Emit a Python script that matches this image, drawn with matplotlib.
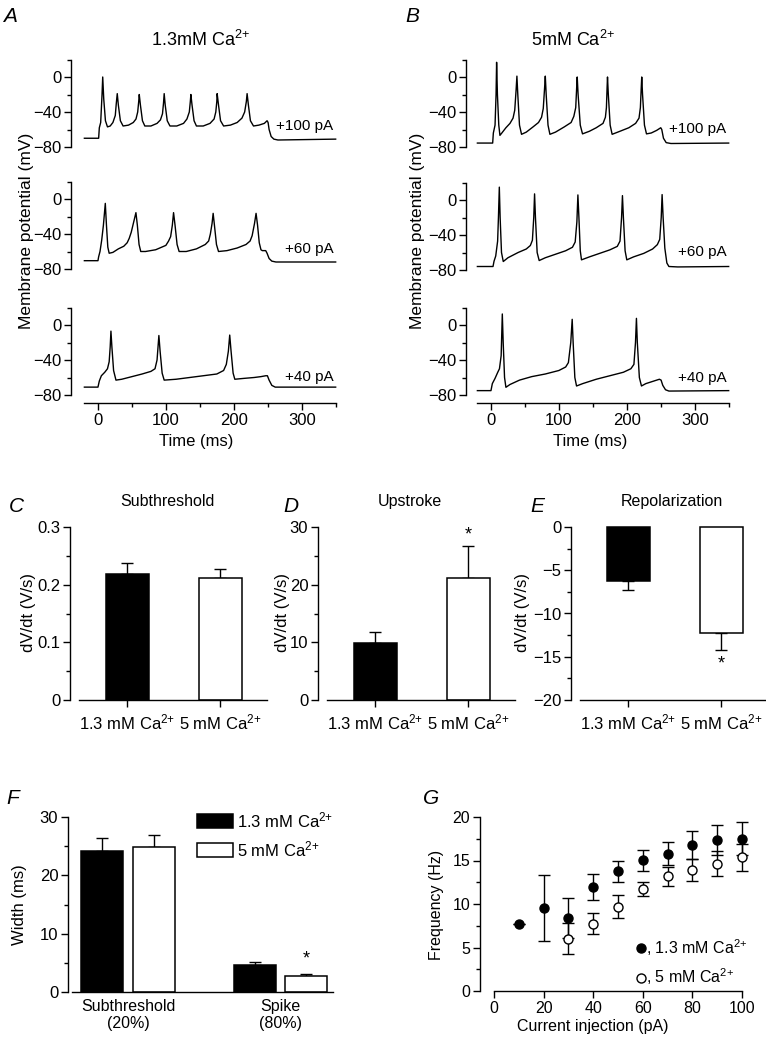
import numpy as np
import matplotlib
matplotlib.use('Agg')
import matplotlib.pyplot as plt
from matplotlib.ticker import FixedLocator
from matplotlib.patches import Patch
from matplotlib.lines import Line2D

plt.rcParams['font.family'] = ['Liberation Sans', 'DejaVu Sans']
plt.rcParams['mathtext.fontset'] = 'custom'
plt.rcParams['mathtext.rm'] = 'Liberation Sans'
plt.rcParams['mathtext.it'] = 'Liberation Sans:italic'
plt.rcParams['mathtext.bf'] = 'Liberation Sans:bold'
plt.rcParams['axes.linewidth'] = 1.0

CA = 'Ca$^{2{+}}$'

# ---------------- data ----------------
# membrane potential traces (time ms, potential mV)
A100 = [(-20,-70),(1,-70),(2,-58),(4,-52),(6,-20),(7,0),(8.5,-25),(11,-50),(14,-57),(18,-56),
        (22,-52),(25.5,-44),(27,-30),(28.4,-19),(30,-32),(33,-50),(37,-56),(45,-55),(52,-52),
        (56,-48),(58.5,-40),(60,-28),(60.8,-20),(62.5,-32),(65.5,-50),(69,-56),(78,-56),(87,-53),
        (92,-49),(95,-42),(96.5,-30),(97.5,-19),(99,-32),(102,-50),(106,-56),(116,-56),(126,-53),
        (131,-48),(134.5,-40),(136,-28),(136.8,-20),(138.5,-32),(141.5,-50),(145,-56),(155,-56),
        (165,-53),(171,-48),(173.5,-40),(175,-28),(175.5,-19),(177.5,-32),(180.5,-50),(185,-56),
        (195,-55),(205,-52),(212,-47),(216,-40),(218.5,-28),(219.6,-19),(221.5,-32),(224.5,-50),
        (229,-56),(237,-55),(245,-53),(249,-50),(250.5,-52),(252,-60),(255,-68),(259,-71),
        (265,-72),(350,-71)]
A60 = [(-20,-70.5),(0,-70.5),(1,-66),(3,-60),(5.5,-47),(8,-30),(10.8,-5),(12.5,-30),(14.5,-55),
       (16.5,-62),(22,-61),(30,-57),(38,-54),(43,-50),(46,-45),(49,-38),(53,-25),(55.9,-15.6),
       (58,-30),(60.5,-52),(63,-60),(70,-60),(85,-58),(100,-53),(104,-48),(107,-43),(109.5,-30),
       (111.3,-15.6),(113.5,-30),(116.5,-52),(119.5,-60),(130,-60),(145,-57),(158,-52),(163,-48),
       (165.5,-40),(168,-28),(169.6,-16.4),(171.5,-30),(174.5,-52),(177.5,-60),(190,-59),
       (205,-56),(218,-52),(224,-48),(227,-42),(230.5,-28),(232.8,-16.4),(235,-30),(237.5,-50),
       (240,-58),(242,-59),(247,-59),(249,-62),(252,-68),(256,-71),(262,-72),(350,-72)]
A40 = [(-20,-71),(0,-71),(2,-64),(5,-58),(10,-54),(14,-50),(16.5,-42),(18,-25),(19.1,-7),
       (20.5,-25),(23,-52),(26.5,-63),(35,-62),(50,-59),(65,-56),(78,-53),(84,-50),(87,-40),
       (89.7,-12),(91.5,-30),(94.5,-55),(97.5,-63),(115,-62),(135,-60),(155,-58),(175,-56),
       (185,-52),(189,-45),(192,-30),(194,-11.5),(196,-30),(199,-55),(201.5,-62),(215,-61),
       (230,-60),(240,-59),(247,-58),(249.5,-58),(252,-63),(256,-69),(261,-71),(350,-71)]
B100 = [(-20,-75.5),(2.5,-75.5),(3.5,-64),(6,-55),(7.5,-20),(8.3,16.8),(9.5,-20),(11.5,-55),
        (13.2,-66.7),(16,-64),(22,-58),(28,-53),(32.5,-47),(35,-38),(37,-15),(38.2,1),(39.5,-20),
        (42,-55),(45,-65.5),(52,-63),(62,-57),(70,-52),(74.5,-46),(77,-36),(79,-12),(80,1),
        (81.3,-20),(84,-55),(86.8,-65.5),(95,-63),(108,-57),(118,-52),(122,-45),(124.8,-35),
        (126.2,-12),(127,0),(128.3,-20),(131.5,-55),(134.8,-65),(145,-62),(155,-58),(165,-53),
        (168.5,-46),(170,-35),(171,-12),(171.6,0),(172.8,-20),(175.5,-55),(178.4,-65.5),
        (190,-62),(203,-58),(213,-53),(218,-47),(220,-35),(221.3,-12),(222,0),(223.2,-20),
        (226,-55),(229,-65),(236,-64),(244,-61),(250,-58),(251.5,-60),(254,-70),(258,-75),
        (265,-76),(350,-75.5)]
B60 = [(-20,-76),(3,-76),(4.5,-70),(7,-64),(9.8,-47),(11,-20),(12.3,14.7),(13.5,-20),(15.5,-60),
       (18.1,-70.3),(25,-66),(40,-60),(52,-56),(58,-52),(61,-46),(63,-20),(64.2,7),(65.5,-20),
       (68,-60),(71,-69.2),(80,-66),(95,-62),(110,-58),(120,-54),(124,-48),(126.5,-25),
       (128,5.8),(129.5,-20),(131.5,-58),(133.3,-68.4),(145,-65),(160,-61),(175,-57),(186,-53),
       (190,-47),(192.3,-20),(193.6,5),(195,-20),(197.5,-58),(200,-68.4),(210,-65),(225,-61),
       (238,-56),(245,-51),(248.5,-45),(250.7,-20),(252,6.2),(253.5,-20),(256,-55),(259,-72),
       (262,-76),(275,-76.5),(350,-76)]
B40 = [(-20,-75),(0,-75),(2,-67),(6,-61),(10,-54),(12.5,-50),(15,-35),(16.7,12.6),(18,-20),
       (20,-60),(22,-71.2),(28,-68),(42,-63),(60,-59),(80,-56),(100,-52),(110,-48),(114,-43),
       (117.5,-20),(119.6,6.5),(121,-20),(123.5,-60),(126,-69.7),(135,-67),(155,-62),(175,-58),
       (195,-54),(206,-50),(210.5,-45),(212.8,-20),(214.2,7.6),(215.5,-20),(218.5,-60),
       (221.6,-69.7),(228,-67),(240,-64),(248,-62),(250.5,-63),(253,-69),(257,-74),(262,-75.5),
       (350,-75)]
trace_labels = ['+100 pA', '+60 pA', '+40 pA']

# C, D, E: dV/dt bars
cde_groups = ['1.3 mM ' + CA, '5 mM ' + CA]
sub_mean = [0.218, 0.211]
sub_err = [0.019, 0.016]
up_mean = [9.8, 21.2]
up_err = [2.0, 5.5]
rep_mean = [-6.3, -12.2]
rep_err = [1.0, 2.0]

# F: widths
f_groups = ['Subthreshold\n(20%)', 'Spike\n(80%)']
width_low = [24.1, 4.6]
width_low_err = [2.3, 0.5]
width_high = [24.8, 2.8]
width_high_err = [2.1, 0.3]

# G: frequency vs current
cur_low = [10, 20, 30, 40, 50, 60, 70, 80, 90, 100]
freq_low = [7.75, 9.5, 8.4, 11.95, 13.75, 15.05, 15.8, 16.8, 17.35, 17.5]
freq_low_err = [0.0, 3.8, 2.3, 1.5, 1.2, 1.2, 1.3, 1.6, 1.7, 1.9]
cur_high = [30, 40, 50, 60, 70, 80, 90, 100]
freq_high = [6.0, 7.75, 9.7, 11.75, 13.2, 13.95, 14.65, 15.35]
freq_high_err = [1.8, 1.2, 1.3, 0.8, 1.1, 1.25, 1.4, 1.5]

# ---------------- figure ----------------
W, H = 766, 1048
fig = plt.figure(figsize=(W / 100, H / 100), dpi=100)


def px_axes(l, t, r, b):
    return fig.add_axes([l / W, 1 - b / H, (r - l) / W, (b - t) / H])


def ftext(x, y, s, **kw):
    kw.setdefault('ha', 'center')
    kw.setdefault('va', 'center')
    return fig.text(x / W, 1 - y / H, s, **kw)


TICK = dict(direction='out', length=5, width=1.0, labelsize=12, pad=2)
MINOR = dict(direction='out', length=3, width=1.0)


def trace_panel(traces, left, right, zero_t_px, neg80_ys, label_vs):
    ms_per_px = 1 / 0.68
    xl = (-(zero_t_px - left) * ms_per_px, 350.5)
    for i, (tr, y80) in enumerate(zip(traces, neg80_ys)):
        top = y80 - 87.5
        last = (i == len(traces) - 1)
        bottom = 403 if last else y80
        ax = px_axes(left, top, right, bottom)
        arr = np.array(tr)
        ax.plot(arr[:, 0], arr[:, 1], color='k', lw=1.0, clip_on=False)
        ax.set_xlim(*xl)
        ymin = -80 - (bottom - y80) / 0.875
        ax.set_ylim(ymin, 20)
        for s in ['top', 'right']:
            ax.spines[s].set_visible(False)
        ax.spines['left'].set_bounds(-80, 20)
        ax.yaxis.set_major_locator(FixedLocator([-80, -40, 0]))
        ax.yaxis.set_minor_locator(FixedLocator([-60, -20, 20]))
        ax.tick_params(axis='y', which='major', **TICK)
        ax.tick_params(axis='y', which='minor', **MINOR)
        if last:
            ax.spines['bottom'].set_bounds(-20, 350)
            ax.xaxis.set_major_locator(FixedLocator([0, 100, 200, 300]))
            ax.xaxis.set_minor_locator(FixedLocator([50, 150, 250, 350]))
            ax.tick_params(axis='x', which='major', **TICK)
            ax.tick_params(axis='x', which='minor', **MINOR)
        else:
            ax.spines['bottom'].set_visible(False)
            ax.set_xticks([])
        ax.text(347, label_vs[i], trace_labels[i], ha='right', va='center', fontsize=11)
        ax.patch.set_visible(False)


trace_panel([A100, A60, A40], 71, 336, 98, [147, 269, 395], [-56, -57, -60])
trace_panel([B100, B60, B40], 466, 729, 491, [147, 270, 395], [-60, -59, -61])

ftext(200, 40, '1.3mM ' + CA, fontsize=13)
ftext(573, 40, '5mM ' + CA, fontsize=13)
ftext(26, 231, 'Membrane potential (mV)', rotation=90, fontsize=12.5)
ftext(418, 231, 'Membrane potential (mV)', rotation=90, fontsize=12.5)
ftext(196, 441, 'Time (ms)', fontsize=12)
ftext(590, 441, 'Time (ms)', fontsize=12)

LET = dict(fontsize=15, style='italic', ha='left', va='center')
ftext(3, 17, 'A', **LET)
ftext(405, 17, 'B', **LET)
ftext(9, 507, 'C', **LET)
ftext(283, 507, 'D', **LET)
ftext(530, 507, 'E', **LET)
ftext(6, 798, 'F', **LET)
ftext(423, 798, 'G', **LET)


def bar_panel(left, means, errs, ylim, major, minor, title, title_x, ylabel_x, star=None):
    ax = px_axes(left, 527, left + 197, 700)
    xs = [1, 2]
    bars = ax.bar(xs, means, width=0.462, color=['black', 'white'], edgecolor='black',
                  linewidth=1.1, zorder=2)
    for b in bars:
        b.set_clip_on(False)
    up = [e if m > 0 else 0 for m, e in zip(means, errs)]
    dn = [e if m < 0 else 0 for m, e in zip(means, errs)]
    ax.errorbar(xs, means, yerr=[dn, up], fmt='none', ecolor='k', elinewidth=1.0,
                capsize=4.5, capthick=1.0, zorder=1, clip_on=False)
    ax.set_xlim(0.387, 2.505)
    ax.set_ylim(*ylim)
    for s in ['top', 'right']:
        ax.spines[s].set_visible(False)
    ax.spines['bottom'].set_bounds(0.484, 2.505)
    ax.set_xticks(xs)
    ax.set_xticklabels(cde_groups, fontsize=11)
    ax.yaxis.set_major_locator(FixedLocator(major))
    ax.yaxis.set_minor_locator(FixedLocator(minor))
    ax.tick_params(axis='both', which='major', **TICK)
    ax.tick_params(axis='x', which='major', pad=4)
    ax.tick_params(axis='y', which='minor', **MINOR)
    ftext(title_x, 502, title, fontsize=11.5)
    ftext(ylabel_x, 612, 'dV/dt (V/s)', rotation=90, fontsize=12)
    if star is not None:
        ax.text(2, star, '*', ha='center', va='center', fontsize=13)
    return ax


axC = bar_panel(70, sub_mean, sub_err, (0, 0.3), [0, 0.1, 0.2, 0.3],
                [0.05, 0.15, 0.25], 'Subthreshold', 167, 28)
axC.set_yticklabels(['0', '0.1', '0.2', '0.3'])
axD = bar_panel(318, up_mean, up_err, (0, 30), [0, 10, 20, 30], [5, 15, 25],
                'Upstroke', 410, 283, star=28.6)
axE = bar_panel(571, rep_mean, rep_err, (-20, 0), [-20, -15, -10, -5, 0],
                [-17.5, -12.5, -7.5, -2.5], 'Repolarization', 672, 522, star=-15.8)

# ---- F ----
axF = px_axes(68, 817, 333, 992)
gx = np.arange(len(f_groups))
axF.bar(gx - 0.17, width_low, width=0.275, color='black', edgecolor='black', lw=1.1, zorder=2)
axF.bar(gx + 0.17, width_high, width=0.275, color='white', edgecolor='black', lw=1.1, zorder=2)
axF.errorbar(gx - 0.17, width_low, yerr=[[0] * 2, width_low_err], fmt='none', ecolor='k',
             elinewidth=1.0, capsize=4.5, capthick=1.0, zorder=1)
axF.errorbar(gx + 0.17, width_high, yerr=[[0] * 2, width_high_err], fmt='none', ecolor='k',
             elinewidth=1.0, capsize=4.5, capthick=1.0, zorder=1)
axF.text(1 + 0.17, 5.6, '*', ha='center', va='center', fontsize=13)
axF.set_xlim(-0.393, 1.344)
axF.set_ylim(0, 30)
for s in ['top', 'right']:
    axF.spines[s].set_visible(False)
axF.spines['bottom'].set_bounds(-0.367, 1.344)
axF.set_xticks(gx)
axF.set_xticklabels(f_groups, fontsize=11.5, linespacing=1.15)
axF.tick_params(axis='x', length=0, pad=5)
axF.yaxis.set_major_locator(FixedLocator([0, 10, 20, 30]))
axF.yaxis.set_minor_locator(FixedLocator([5, 15, 25]))
axF.tick_params(axis='y', which='major', **TICK)
axF.tick_params(axis='y', which='minor', **MINOR)
ftext(20, 905, 'Width (ms)', rotation=90, fontsize=12)
axF.legend([Patch(facecolor='black', edgecolor='black', lw=1.1),
            Patch(facecolor='white', edgecolor='black', lw=1.1)],
           ['1.3 mM ' + CA, '5 mM ' + CA], loc='upper left',
           bbox_to_anchor=(197 / W, 1 - 810 / H), bbox_transform=fig.transFigure,
           frameon=False, fontsize=12, handlelength=2.15, handleheight=0.9,
           handletextpad=0.25, borderpad=0, borderaxespad=0, labelspacing=0.55)

# ---- G ----
axG = px_axes(480, 817, 743, 991)
axG.errorbar(cur_low, freq_low, yerr=freq_low_err, fmt='o', ms=6.5, mfc='black', mec='black',
             ecolor='black', elinewidth=1.0, capsize=4, capthick=1.0, zorder=2, clip_on=False)
axG.errorbar(cur_high, freq_high, yerr=freq_high_err, fmt='o', ms=6.5, mfc='white',
             mec='black', mew=1.0, ecolor='black', elinewidth=1.0, capsize=4, capthick=1.0,
             zorder=3, clip_on=False)
axG.set_xlim(-5.65, 100.4)
axG.set_ylim(0, 20)
for s in ['top', 'right']:
    axG.spines[s].set_visible(False)
axG.spines['bottom'].set_bounds(0, 100)
axG.xaxis.set_major_locator(FixedLocator([0, 20, 40, 60, 80, 100]))
axG.yaxis.set_major_locator(FixedLocator([0, 5, 10, 15, 20]))
axG.yaxis.set_minor_locator(FixedLocator([2.5, 7.5, 12.5, 17.5]))
axG.tick_params(axis='both', which='major', **TICK)
axG.tick_params(axis='both', which='major', labelsize=11.5)
axG.tick_params(axis='y', which='minor', **MINOR)
ftext(593, 1027, 'Current injection (pA)', fontsize=11.5)
ftext(437, 905, 'Frequency (Hz)', rotation=90, fontsize=11.5)
axG.legend([Line2D([], [], ls='none', marker='o', ms=6.5, mfc='black', mec='black'),
            Line2D([], [], ls='none', marker='o', ms=6.5, mfc='white', mec='black')],
           [', 1.3 mM ' + CA, ', 5 mM ' + CA], loc='upper left',
           bbox_to_anchor=(636 / W, 1 - 937 / H), bbox_transform=fig.transFigure,
           frameon=False, fontsize=11.5, handlelength=0.6, handletextpad=0.05,
           borderpad=0, borderaxespad=0, labelspacing=0.55)

fig.savefig('out.png', dpi=100)
